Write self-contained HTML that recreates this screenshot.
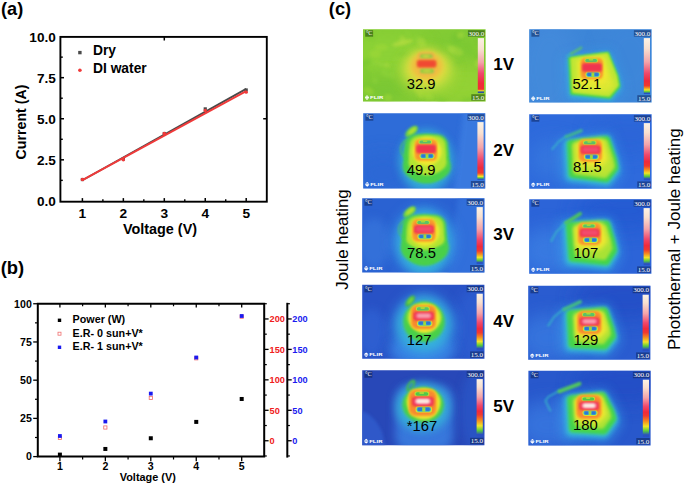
<!DOCTYPE html>
<html><head><meta charset="utf-8"><title>Figure</title>
<style>html,body{margin:0;padding:0;background:#fff;}svg{display:block;}text{font-kerning:normal;}</style></head>
<body><svg width="685" height="484" viewBox="0 0 685 484">
<rect width="685" height="484" fill="#fff"/>
<defs>
<filter id="b0_5" x="-50%" y="-50%" width="200%" height="200%"><feGaussianBlur stdDeviation="0.5"/></filter>
<filter id="b0_8" x="-50%" y="-50%" width="200%" height="200%"><feGaussianBlur stdDeviation="0.8"/></filter>
<filter id="b1_2" x="-50%" y="-50%" width="200%" height="200%"><feGaussianBlur stdDeviation="1.2"/></filter>
<filter id="b1_8" x="-50%" y="-50%" width="200%" height="200%"><feGaussianBlur stdDeviation="1.8"/></filter>
<filter id="b2_5" x="-50%" y="-50%" width="200%" height="200%"><feGaussianBlur stdDeviation="2.5"/></filter>
<filter id="b4" x="-50%" y="-50%" width="200%" height="200%"><feGaussianBlur stdDeviation="4"/></filter>
<filter id="b6" x="-50%" y="-50%" width="200%" height="200%"><feGaussianBlur stdDeviation="6"/></filter>
<filter id="b9" x="-50%" y="-50%" width="200%" height="200%"><feGaussianBlur stdDeviation="9"/></filter>
<linearGradient id="cbar" x1="0" y1="0" x2="0" y2="1">
<stop offset="0" stop-color="#fbf3e6"/><stop offset="0.2" stop-color="#f8e0d0"/><stop offset="0.42" stop-color="#f4a4aa"/>
<stop offset="0.62" stop-color="#f0486c"/><stop offset="0.8" stop-color="#f02a3c"/><stop offset="0.865" stop-color="#f03a30"/><stop offset="0.9" stop-color="#f58a20"/>
<stop offset="0.935" stop-color="#f2e428"/><stop offset="0.962" stop-color="#58cc3c"/><stop offset="0.985" stop-color="#2a50c0"/><stop offset="1" stop-color="#2a50c0"/></linearGradient>
<linearGradient id="cbar1" x1="0" y1="0" x2="0" y2="1">
<stop offset="0" stop-color="#fbf0e2"/><stop offset="0.2" stop-color="#f8e0d0"/><stop offset="0.44" stop-color="#f4a4aa"/>
<stop offset="0.64" stop-color="#f0486c"/><stop offset="0.82" stop-color="#f02a3c"/><stop offset="0.93" stop-color="#f03030"/><stop offset="0.95" stop-color="#f5b028"/>
<stop offset="0.965" stop-color="#c8d838"/><stop offset="0.975" stop-color="#2a50a0"/><stop offset="1" stop-color="#2a50a0"/></linearGradient>
</defs>
<rect x="60.4" y="36.9" width="206.4" height="164.79999999999998" fill="none" stroke="#000" stroke-width="1.9"/>
<path d="M82.4 201.7v-3.6" stroke="#000" stroke-width="1.5"/>
<text x="82.4" y="218.3" font-family='"Liberation Sans", sans-serif' font-size="13.7" font-weight="bold" fill="#000" text-anchor="middle" >1</text>
<path d="M123.35000000000001 201.7v-3.6" stroke="#000" stroke-width="1.5"/>
<text x="123.35000000000001" y="218.3" font-family='"Liberation Sans", sans-serif' font-size="13.7" font-weight="bold" fill="#000" text-anchor="middle" >2</text>
<path d="M164.3 201.7v-3.6" stroke="#000" stroke-width="1.5"/>
<text x="164.3" y="218.3" font-family='"Liberation Sans", sans-serif' font-size="13.7" font-weight="bold" fill="#000" text-anchor="middle" >3</text>
<path d="M205.25 201.7v-3.6" stroke="#000" stroke-width="1.5"/>
<text x="205.25" y="218.3" font-family='"Liberation Sans", sans-serif' font-size="13.7" font-weight="bold" fill="#000" text-anchor="middle" >4</text>
<path d="M246.20000000000002 201.7v-3.6" stroke="#000" stroke-width="1.5"/>
<text x="246.20000000000002" y="218.3" font-family='"Liberation Sans", sans-serif' font-size="13.7" font-weight="bold" fill="#000" text-anchor="middle" >5</text>
<path d="M164.3 36.9v3.6M266.8 118.75h-3.6" stroke="#000" stroke-width="1.5"/>
<path d="M102.875 201.7v-2.4" stroke="#000" stroke-width="1.4"/>
<path d="M143.82500000000002 201.7v-2.4" stroke="#000" stroke-width="1.4"/>
<path d="M184.775 201.7v-2.4" stroke="#000" stroke-width="1.4"/>
<path d="M225.72500000000002 201.7v-2.4" stroke="#000" stroke-width="1.4"/>
<text x="55.8" y="205.8" font-family='"Liberation Sans", sans-serif' font-size="13.6" font-weight="bold" fill="#000" text-anchor="end" >0.0</text>
<path d="M60.4 159.825h3.6" stroke="#000" stroke-width="1.5"/>
<text x="55.8" y="164.725" font-family='"Liberation Sans", sans-serif' font-size="13.6" font-weight="bold" fill="#000" text-anchor="end" >2.5</text>
<path d="M60.4 118.75h3.6" stroke="#000" stroke-width="1.5"/>
<text x="55.8" y="123.65" font-family='"Liberation Sans", sans-serif' font-size="13.6" font-weight="bold" fill="#000" text-anchor="end" >5.0</text>
<path d="M60.4 77.67500000000001h3.6" stroke="#000" stroke-width="1.5"/>
<text x="55.8" y="82.57500000000002" font-family='"Liberation Sans", sans-serif' font-size="13.6" font-weight="bold" fill="#000" text-anchor="end" >7.5</text>
<text x="55.8" y="41.49999999999999" font-family='"Liberation Sans", sans-serif' font-size="13.6" font-weight="bold" fill="#000" text-anchor="end" >10.0</text>
<path d="M60.4 180.3625h2.4" stroke="#000" stroke-width="1.4"/>
<path d="M60.4 139.28750000000002h2.4" stroke="#000" stroke-width="1.4"/>
<path d="M60.4 98.2125h2.4" stroke="#000" stroke-width="1.4"/>
<path d="M60.4 57.13750000000002h2.4" stroke="#000" stroke-width="1.4"/>
<text x="160" y="234" font-family='"Liberation Sans", sans-serif' font-size="14.4" font-weight="bold" fill="#000" text-anchor="middle" >Voltage (V)</text>
<text transform="translate(26.2,122) rotate(-90)" font-family='"Liberation Sans", sans-serif' font-size="14.2" font-weight="bold" text-anchor="middle">Current (A)</text>
<path d="M82.4 180.1982L246.20000000000002 88.84740000000001" stroke="#4a4a4a" stroke-width="1.8" fill="none"/>
<rect x="80.80000000000001" y="177.941" width="3.2" height="3.2" fill="#4a4a4a"/>
<rect x="121.75000000000001" y="157.4035" width="3.2" height="3.2" fill="#4a4a4a"/>
<rect x="162.70000000000002" y="131.937" width="3.2" height="3.2" fill="#4a4a4a"/>
<rect x="203.65" y="107.29200000000002" width="3.2" height="3.2" fill="#4a4a4a"/>
<rect x="244.60000000000002" y="88.39750000000001" width="3.2" height="3.2" fill="#4a4a4a"/>
<path d="M82.4 180.1982L246.20000000000002 91.14760000000001" stroke="#f03a3a" stroke-width="1.9" fill="none"/>
<circle cx="82.4" cy="179.541" r="1.7" fill="#f03a3a"/>
<circle cx="123.35000000000001" cy="159.825" r="1.7" fill="#f03a3a"/>
<circle cx="164.3" cy="133.537" r="1.7" fill="#f03a3a"/>
<circle cx="205.25" cy="110.53500000000001" r="1.7" fill="#f03a3a"/>
<circle cx="246.20000000000002" cy="92.13340000000001" r="1.7" fill="#f03a3a"/>
<rect x="78.2" y="50.9" width="3.4" height="3.4" fill="#4a4a4a"/>
<circle cx="79.9" cy="70.3" r="1.8" fill="#f03a3a"/>
<text x="93" y="55.3" font-family='"Liberation Sans", sans-serif' font-size="13.8" font-weight="bold" fill="#000" text-anchor="start" >Dry</text>
<text x="93" y="72.5" font-family='"Liberation Sans", sans-serif' font-size="13.8" font-weight="bold" fill="#000" text-anchor="start" >DI water</text>
<text x="1.0" y="15" font-family='"Liberation Sans", sans-serif' font-size="18.2" font-weight="bold" fill="#000" text-anchor="start" >(a)</text>
<path d="M37.8 456.6V303.8H264.2V456.6Z" fill="none" stroke="#000" stroke-width="2"/>
<path d="M287.3 302.8V457.6" stroke="#000" stroke-width="2"/>
<path d="M59.9 456.6v4.6M59.9 303.8v3.6" stroke="#000" stroke-width="1.3"/>
<text x="59.9" y="469.8" font-family='"Liberation Sans", sans-serif' font-size="10.6" font-weight="bold" fill="#000" text-anchor="middle" >1</text>
<path d="M105.35 456.6v4.6M105.35 303.8v3.6" stroke="#000" stroke-width="1.3"/>
<text x="105.35" y="469.8" font-family='"Liberation Sans", sans-serif' font-size="10.6" font-weight="bold" fill="#000" text-anchor="middle" >2</text>
<path d="M150.8 456.6v4.6M150.8 303.8v3.6" stroke="#000" stroke-width="1.3"/>
<text x="150.8" y="469.8" font-family='"Liberation Sans", sans-serif' font-size="10.6" font-weight="bold" fill="#000" text-anchor="middle" >3</text>
<path d="M196.25000000000003 456.6v4.6M196.25000000000003 303.8v3.6" stroke="#000" stroke-width="1.3"/>
<text x="196.25000000000003" y="469.8" font-family='"Liberation Sans", sans-serif' font-size="10.6" font-weight="bold" fill="#000" text-anchor="middle" >4</text>
<path d="M241.70000000000002 456.6v4.6M241.70000000000002 303.8v3.6" stroke="#000" stroke-width="1.3"/>
<text x="241.70000000000002" y="469.8" font-family='"Liberation Sans", sans-serif' font-size="10.6" font-weight="bold" fill="#000" text-anchor="middle" >5</text>
<path d="M82.625 456.6v2.8M82.625 303.8v2.4" stroke="#000" stroke-width="1.2"/>
<path d="M128.07500000000002 456.6v2.8M128.07500000000002 303.8v2.4" stroke="#000" stroke-width="1.2"/>
<path d="M173.525 456.6v2.8M173.525 303.8v2.4" stroke="#000" stroke-width="1.2"/>
<path d="M218.97500000000002 456.6v2.8M218.97500000000002 303.8v2.4" stroke="#000" stroke-width="1.2"/>
<path d="M37.8 456.6h-4.6" stroke="#000" stroke-width="1.3"/>
<text x="31.8" y="460.40000000000003" font-family='"Liberation Sans", sans-serif' font-size="10.6" font-weight="bold" fill="#000" text-anchor="end" >0</text>
<path d="M37.8 418.38750000000005h-4.6" stroke="#000" stroke-width="1.3"/>
<text x="31.8" y="422.18750000000006" font-family='"Liberation Sans", sans-serif' font-size="10.6" font-weight="bold" fill="#000" text-anchor="end" >25</text>
<path d="M37.8 380.175h-4.6" stroke="#000" stroke-width="1.3"/>
<text x="31.8" y="383.975" font-family='"Liberation Sans", sans-serif' font-size="10.6" font-weight="bold" fill="#000" text-anchor="end" >50</text>
<path d="M37.8 341.96250000000003h-4.6" stroke="#000" stroke-width="1.3"/>
<text x="31.8" y="345.76250000000005" font-family='"Liberation Sans", sans-serif' font-size="10.6" font-weight="bold" fill="#000" text-anchor="end" >75</text>
<path d="M37.8 303.75h-4.6" stroke="#000" stroke-width="1.3"/>
<text x="31.8" y="307.55" font-family='"Liberation Sans", sans-serif' font-size="10.6" font-weight="bold" fill="#000" text-anchor="end" >100</text>
<path d="M37.8 437.49375000000003h-2.8" stroke="#000" stroke-width="1.2"/>
<path d="M37.8 399.28125h-2.8" stroke="#000" stroke-width="1.2"/>
<path d="M37.8 361.06875h-2.8" stroke="#000" stroke-width="1.2"/>
<path d="M37.8 322.85625000000005h-2.8" stroke="#000" stroke-width="1.2"/>
<path d="M264.2 440.75h4.4" stroke="#000" stroke-width="1.3"/>
<text x="269.6" y="444.05" font-family='"Liberation Sans", sans-serif' font-size="9.2" font-weight="bold" fill="#f02020" text-anchor="start" >0</text>
<path d="M264.2 410.3h4.4" stroke="#000" stroke-width="1.3"/>
<text x="269.6" y="413.6" font-family='"Liberation Sans", sans-serif' font-size="9.2" font-weight="bold" fill="#f02020" text-anchor="start" >50</text>
<path d="M264.2 379.85h4.4" stroke="#000" stroke-width="1.3"/>
<text x="269.6" y="383.15000000000003" font-family='"Liberation Sans", sans-serif' font-size="9.2" font-weight="bold" fill="#f02020" text-anchor="start" >100</text>
<path d="M264.2 349.4h4.4" stroke="#000" stroke-width="1.3"/>
<text x="269.6" y="352.7" font-family='"Liberation Sans", sans-serif' font-size="9.2" font-weight="bold" fill="#f02020" text-anchor="start" >150</text>
<path d="M264.2 318.95h4.4" stroke="#000" stroke-width="1.3"/>
<text x="269.6" y="322.25" font-family='"Liberation Sans", sans-serif' font-size="9.2" font-weight="bold" fill="#f02020" text-anchor="start" >200</text>
<path d="M264.2 455.975h2.6" stroke="#000" stroke-width="1.2"/>
<path d="M264.2 425.525h2.6" stroke="#000" stroke-width="1.2"/>
<path d="M264.2 395.075h2.6" stroke="#000" stroke-width="1.2"/>
<path d="M264.2 364.625h2.6" stroke="#000" stroke-width="1.2"/>
<path d="M264.2 334.175h2.6" stroke="#000" stroke-width="1.2"/>
<path d="M264.2 303.725h2.6" stroke="#000" stroke-width="1.2"/>
<path d="M287.3 440.75h4.4" stroke="#000" stroke-width="1.3"/>
<text x="292.3" y="444.05" font-family='"Liberation Sans", sans-serif' font-size="9.2" font-weight="bold" fill="#1a1af0" text-anchor="start" >0</text>
<path d="M287.3 410.3h4.4" stroke="#000" stroke-width="1.3"/>
<text x="292.3" y="413.6" font-family='"Liberation Sans", sans-serif' font-size="9.2" font-weight="bold" fill="#1a1af0" text-anchor="start" >50</text>
<path d="M287.3 379.85h4.4" stroke="#000" stroke-width="1.3"/>
<text x="292.3" y="383.15000000000003" font-family='"Liberation Sans", sans-serif' font-size="9.2" font-weight="bold" fill="#1a1af0" text-anchor="start" >100</text>
<path d="M287.3 349.4h4.4" stroke="#000" stroke-width="1.3"/>
<text x="292.3" y="352.7" font-family='"Liberation Sans", sans-serif' font-size="9.2" font-weight="bold" fill="#1a1af0" text-anchor="start" >150</text>
<path d="M287.3 318.95h4.4" stroke="#000" stroke-width="1.3"/>
<text x="292.3" y="322.25" font-family='"Liberation Sans", sans-serif' font-size="9.2" font-weight="bold" fill="#1a1af0" text-anchor="start" >200</text>
<path d="M287.3 455.975h2.6" stroke="#000" stroke-width="1.2"/>
<path d="M287.3 425.525h2.6" stroke="#000" stroke-width="1.2"/>
<path d="M287.3 395.075h2.6" stroke="#000" stroke-width="1.2"/>
<path d="M287.3 364.625h2.6" stroke="#000" stroke-width="1.2"/>
<path d="M287.3 334.175h2.6" stroke="#000" stroke-width="1.2"/>
<path d="M287.3 303.725h2.6" stroke="#000" stroke-width="1.2"/>
<text x="147.8" y="481" font-family='"Liberation Sans", sans-serif' font-size="10.9" font-weight="bold" fill="#000" text-anchor="middle" >Voltage (V)</text>
<rect x="57.9" y="452.61295" width="4" height="4" fill="#000"/>
<rect x="103.35" y="446.95750000000004" width="4" height="4" fill="#000"/>
<rect x="148.8" y="436.25800000000004" width="4" height="4" fill="#000"/>
<rect x="194.25000000000003" y="419.90305" width="4" height="4" fill="#000"/>
<rect x="239.70000000000002" y="396.97555" width="4" height="4" fill="#000"/>
<rect x="58.3" y="436.2" width="3.2" height="3.2" fill="#fff" stroke="#f06868" stroke-width="0.8"/>
<rect x="103.75" y="425.9" width="3.2" height="3.2" fill="#fff" stroke="#f06868" stroke-width="0.8"/>
<rect x="149.20000000000002" y="396.29999999999995" width="3.2" height="3.2" fill="#fff" stroke="#f06868" stroke-width="0.8"/>
<rect x="194.65000000000003" y="356.7" width="3.2" height="3.2" fill="#fff" stroke="#f06868" stroke-width="0.8"/>
<rect x="240.10000000000002" y="315.09999999999997" width="3.2" height="3.2" fill="#fff" stroke="#f06868" stroke-width="0.8"/>
<rect x="58.0" y="434.1" width="3.8" height="3.8" fill="#1a1af0"/>
<rect x="103.44999999999999" y="419.6" width="3.8" height="3.8" fill="#1a1af0"/>
<rect x="148.9" y="391.70000000000005" width="3.8" height="3.8" fill="#1a1af0"/>
<rect x="194.35000000000002" y="355.6" width="3.8" height="3.8" fill="#1a1af0"/>
<rect x="239.8" y="314.1" width="3.8" height="3.8" fill="#1a1af0"/>
<rect x="57.8" y="318.6" width="3.4" height="3.4" fill="#000"/>
<rect x="58" y="332.2" width="3" height="3" fill="#fff" stroke="#f07070" stroke-width="0.8"/>
<rect x="57.8" y="345.6" width="3.4" height="3.4" fill="#1a1af0"/>
<text x="72.6" y="323.4" font-family='"Liberation Sans", sans-serif' font-size="10.75" font-weight="bold" fill="#000" text-anchor="start" >Power (W)</text>
<text x="72.6" y="337.1" font-family='"Liberation Sans", sans-serif' font-size="10.75" font-weight="bold" fill="#000" text-anchor="start" >E.R- 0 sun+V*</text>
<text x="72.6" y="350.2" font-family='"Liberation Sans", sans-serif' font-size="10.75" font-weight="bold" fill="#000" text-anchor="start" >E.R- 1 sun+V*</text>
<text x="0.7" y="274" font-family='"Liberation Sans", sans-serif' font-size="18.4" font-weight="bold" fill="#000" text-anchor="start" >(b)</text>
<text x="328.8" y="14.7" font-family='"Liberation Sans", sans-serif' font-size="18.3" font-weight="bold" fill="#000" text-anchor="start" >(c)</text>
<text transform="translate(348,239.5) rotate(-90)" font-family='"Liberation Sans", sans-serif' font-size="16.9" text-anchor="middle">Joule heating</text>
<text transform="translate(679.6,239.2) rotate(-90)" font-family='"Liberation Sans", sans-serif' font-size="17" text-anchor="middle">Photothermal + Joule heating</text>
<text x="493.3" y="70.4" font-family='"Liberation Sans", sans-serif' font-size="17" font-weight="bold" fill="#000" text-anchor="start" >1V</text>
<text x="493.3" y="155.6" font-family='"Liberation Sans", sans-serif' font-size="17" font-weight="bold" fill="#000" text-anchor="start" >2V</text>
<text x="493.3" y="240.4" font-family='"Liberation Sans", sans-serif' font-size="17" font-weight="bold" fill="#000" text-anchor="start" >3V</text>
<text x="493.3" y="327" font-family='"Liberation Sans", sans-serif' font-size="17" font-weight="bold" fill="#000" text-anchor="start" >4V</text>
<text x="493.3" y="412.3" font-family='"Liberation Sans", sans-serif' font-size="17" font-weight="bold" fill="#000" text-anchor="start" >5V</text>
<linearGradient id="g1" x1="0" y1="0" x2="0" y2="1"><stop offset="0.000" stop-color="#fbf3e6"/><stop offset="0.194" stop-color="#f8e0d0"/><stop offset="0.440" stop-color="#f4a4aa"/><stop offset="0.651" stop-color="#f0486c"/><stop offset="0.792" stop-color="#f02a3c"/><stop offset="0.880" stop-color="#f03a30"/><stop offset="0.910" stop-color="#f58a20"/><stop offset="0.940" stop-color="#f2e428"/><stop offset="0.966" stop-color="#58cc3c"/><stop offset="0.988" stop-color="#2a50c0"/><stop offset="1.000" stop-color="#2a50c0"/></linearGradient>
<clipPath id="c1"><rect x="0" y="0" width="122.6" height="72.4"/></clipPath>
<g transform="translate(363,29.2)" clip-path="url(#c1)">
<rect x="-2" y="-2" width="126.6" height="76.4" fill="#84cc34"/>
<ellipse cx="25" cy="25" rx="40" ry="22" fill="#92d638" filter="url(#b9)" opacity="0.6"/>
<ellipse cx="100" cy="55" rx="34" ry="22" fill="#9ad436" filter="url(#b9)" opacity="0.7"/>
<ellipse cx="20" cy="60" rx="25" ry="14" fill="#74c434" filter="url(#b9)" opacity="0.6"/>
<ellipse cx="95" cy="18" rx="20" ry="12" fill="#78c834" filter="url(#b9)" opacity="0.5"/>
<ellipse cx="40" cy="13.5" rx="11" ry="2.6" fill="#b4dc40" filter="url(#b1_8)" opacity="0.8" transform="rotate(-14 40 13.5)"/>
<ellipse cx="39.5" cy="10.9" rx="3.3" ry="4.5" fill="#b0dc40" filter="url(#b1_8)" opacity="0.45"/>
<ellipse cx="44.6" cy="4.2" rx="4.3" ry="2.3" fill="#90d43a" filter="url(#b1_8)" opacity="0.45" transform="rotate(60 44.6 4.2)"/>
<ellipse cx="8.5" cy="6.5" rx="3.4" ry="3.7" fill="#7ac832" filter="url(#b1_8)" opacity="0.45" transform="rotate(-20 8.5 6.5)"/>
<ellipse cx="76.9" cy="42.0" rx="6.5" ry="3.2" fill="#9cd83c" filter="url(#b1_8)" opacity="0.45" transform="rotate(-20 76.9 42.0)"/>
<ellipse cx="5.7" cy="61.8" rx="5.5" ry="3.6" fill="#a4da38" filter="url(#b1_8)" opacity="0.45" transform="rotate(25 5.7 61.8)"/>
<ellipse cx="68.4" cy="49.1" rx="6.5" ry="3.9" fill="#9cd83c" filter="url(#b1_8)" opacity="0.45" transform="rotate(25 68.4 49.1)"/>
<ellipse cx="11.9" cy="51.3" rx="3.4" ry="2.6" fill="#90d43a" filter="url(#b1_8)" opacity="0.45" transform="rotate(60 11.9 51.3)"/>
<ellipse cx="94.8" cy="33.5" rx="5.2" ry="2.7" fill="#7ac832" filter="url(#b1_8)" opacity="0.45" transform="rotate(-20 94.8 33.5)"/>
<ellipse cx="85.3" cy="17.6" rx="4.8" ry="3.5" fill="#90d43a" filter="url(#b1_8)" opacity="0.45" transform="rotate(25 85.3 17.6)"/>
<ellipse cx="89.0" cy="20.7" rx="3.7" ry="3.3" fill="#9cd83c" filter="url(#b1_8)" opacity="0.45" transform="rotate(25 89.0 20.7)"/>
<ellipse cx="18.5" cy="35.2" rx="8.8" ry="2.2" fill="#9cd83c" filter="url(#b1_8)" opacity="0.45" transform="rotate(25 18.5 35.2)"/>
<ellipse cx="41.5" cy="25.2" rx="6.5" ry="3.4" fill="#7ac832" filter="url(#b1_8)" opacity="0.45"/>
<ellipse cx="115.3" cy="34.1" rx="3.4" ry="4.2" fill="#b0dc40" filter="url(#b1_8)" opacity="0.45" transform="rotate(25 115.3 34.1)"/>
<ellipse cx="78.9" cy="71.5" rx="4.7" ry="3.2" fill="#7ac832" filter="url(#b1_8)" opacity="0.45" transform="rotate(25 78.9 71.5)"/>
<ellipse cx="2.8" cy="33.2" rx="6.7" ry="3.5" fill="#72c430" filter="url(#b1_8)" opacity="0.45" transform="rotate(-20 2.8 33.2)"/>
<ellipse cx="93.7" cy="9.3" rx="5.4" ry="4.8" fill="#72c430" filter="url(#b1_8)" opacity="0.45" transform="rotate(60 93.7 9.3)"/>
<ellipse cx="9.8" cy="32.3" rx="4.7" ry="2.4" fill="#90d43a" filter="url(#b1_8)" opacity="0.45" transform="rotate(60 9.8 32.3)"/>
<ellipse cx="105.4" cy="20.0" rx="8.9" ry="4.0" fill="#7ac832" filter="url(#b1_8)" opacity="0.45" transform="rotate(60 105.4 20.0)"/>
<ellipse cx="116.8" cy="10.9" rx="3.9" ry="4.0" fill="#72c430" filter="url(#b1_8)" opacity="0.45"/>
<ellipse cx="59.2" cy="42.4" rx="4.7" ry="2.4" fill="#a4da38" filter="url(#b1_8)" opacity="0.45" transform="rotate(25 59.2 42.4)"/>
<ellipse cx="74.4" cy="22.9" rx="7.1" ry="3.5" fill="#72c430" filter="url(#b1_8)" opacity="0.45"/>
<ellipse cx="55.7" cy="62.7" rx="7.8" ry="3.2" fill="#b0dc40" filter="url(#b1_8)" opacity="0.45" transform="rotate(60 55.7 62.7)"/>
<ellipse cx="48.1" cy="34.7" rx="3.4" ry="2.2" fill="#7ac832" filter="url(#b1_8)" opacity="0.45" transform="rotate(-20 48.1 34.7)"/>
<ellipse cx="53.8" cy="7.9" rx="3.3" ry="2.0" fill="#90d43a" filter="url(#b1_8)" opacity="0.45" transform="rotate(-20 53.8 7.9)"/>
<ellipse cx="65.5" cy="68.3" rx="3.2" ry="4.6" fill="#90d43a" filter="url(#b1_8)" opacity="0.45" transform="rotate(60 65.5 68.3)"/>
<ellipse cx="18.1" cy="18.2" rx="6.6" ry="3.4" fill="#a4da38" filter="url(#b1_8)" opacity="0.45"/>
<ellipse cx="103.6" cy="71.5" rx="5.9" ry="2.9" fill="#7ac832" filter="url(#b1_8)" opacity="0.45" transform="rotate(-20 103.6 71.5)"/>
<ellipse cx="12.5" cy="24.7" rx="5.9" ry="4.1" fill="#a4da38" filter="url(#b1_8)" opacity="0.45"/>
<ellipse cx="25.0" cy="68.5" rx="3.9" ry="3.6" fill="#a4da38" filter="url(#b1_8)" opacity="0.45"/>
<ellipse cx="92.5" cy="21.5" rx="8.2" ry="4.1" fill="#b0dc40" filter="url(#b1_8)" opacity="0.45" transform="rotate(25 92.5 21.5)"/>
<ellipse cx="63.2" cy="65.4" rx="7.6" ry="3.6" fill="#a4da38" filter="url(#b1_8)" opacity="0.45" transform="rotate(25 63.2 65.4)"/>
<ellipse cx="77.6" cy="44.2" rx="7.8" ry="4.5" fill="#72c430" filter="url(#b1_8)" opacity="0.45" transform="rotate(-20 77.6 44.2)"/>
<ellipse cx="24.4" cy="35.5" rx="3.2" ry="2.1" fill="#b0dc40" filter="url(#b1_8)" opacity="0.45" transform="rotate(25 24.4 35.5)"/>
<ellipse cx="57.6" cy="13.9" rx="8.7" ry="3.3" fill="#90d43a" filter="url(#b1_8)" opacity="0.45" transform="rotate(25 57.6 13.9)"/>
<ellipse cx="116.5" cy="26.3" rx="3.6" ry="3.4" fill="#72c430" filter="url(#b1_8)" opacity="0.45" transform="rotate(25 116.5 26.3)"/>
<ellipse cx="24.9" cy="44.9" rx="8.0" ry="3.4" fill="#90d43a" filter="url(#b1_8)" opacity="0.45" transform="rotate(25 24.9 44.9)"/>
<ellipse cx="97.6" cy="6.1" rx="3.7" ry="3.2" fill="#b0dc40" filter="url(#b1_8)" opacity="0.45" transform="rotate(-20 97.6 6.1)"/>
<ellipse cx="58.3" cy="12.9" rx="5.0" ry="4.4" fill="#b0dc40" filter="url(#b1_8)" opacity="0.45" transform="rotate(60 58.3 12.9)"/>
<ellipse cx="56.5" cy="53.5" rx="7.3" ry="2.5" fill="#9cd83c" filter="url(#b1_8)" opacity="0.45" transform="rotate(-20 56.5 53.5)"/>
<ellipse cx="3.4" cy="42.5" rx="7.8" ry="2.4" fill="#7ac832" filter="url(#b1_8)" opacity="0.45" transform="rotate(60 3.4 42.5)"/>
<ellipse cx="64" cy="42" rx="28" ry="22" fill="#b4dc3c" filter="url(#b6)" opacity="0.9"/>
<ellipse cx="64" cy="39" rx="21" ry="17.5" fill="#e2dc40" filter="url(#b4)" opacity="1"/>
<ellipse cx="63.7" cy="36.5" rx="15.5" ry="13.5" fill="#f0bc40" filter="url(#b2_5)" opacity="1"/>
<rect x="55" y="23.6" width="16" height="6.4" rx="2" fill="#f0b048" filter="url(#b1_2)" opacity="1"/>
<rect x="55.5" y="38" width="17" height="7.4" rx="2" fill="#f0b848" filter="url(#b1_2)" opacity="1"/>
<rect x="57" y="25" width="12.6" height="4" rx="1.5" fill="#98cc40" filter="url(#b0_8)" opacity="1"/>
<rect x="57.2" y="39.4" width="13.6" height="4.6" rx="1.5" fill="#98cc40" filter="url(#b0_8)" opacity="1"/>
<rect x="60" y="25.6" width="6" height="3" rx="1" fill="#c8d040" filter="url(#b0_8)" opacity="1"/>
<rect x="60.4" y="40" width="7" height="3.4" rx="1" fill="#c0d040" filter="url(#b0_8)" opacity="1"/>
<rect x="53.6" y="30.6" width="20" height="8" rx="2.5" fill="#f08838" filter="url(#b1_2)" opacity="1"/>
<rect x="54.4" y="31.4" width="18.4" height="6.4" rx="2" fill="#f04832" filter="url(#b1_2)" opacity="1"/>
<rect x="2.2" y="1" width="7.9" height="6.5" fill="rgba(30,70,10,0.55)"/>
<text x="2.9" y="6.3" font-family='"Liberation Serif", serif' font-size="6.4" fill="#fff" textLength="6.6" lengthAdjust="spacingAndGlyphs">°C</text>
<rect x="104.89999999999999" y="1" width="16.9" height="6.4" fill="rgba(30,70,10,0.55)"/>
<text x="121.19999999999999" y="6.6" font-family='"Liberation Serif", serif' font-size="7" fill="#fff" text-anchor="end">300.0</text>
<rect x="108.3" y="65.0" width="13.5" height="6.4" fill="rgba(30,70,10,0.55)"/>
<text x="121.19999999999999" y="70.60000000000001" font-family='"Liberation Serif", serif' font-size="7" fill="#fff" text-anchor="end">15.0</text>
<rect x="114.8" y="8.9" width="6.2" height="55.00000000000001" fill="url(#cbar1)"/>
<g fill="#fff"><path d="M4 66.0l2 1.6h-4zM4 70.7l2-1.6h-4z"/><rect x="2" y="67.9" width="4" height="0.9"/></g>
<text x="7" y="69.80000000000001" font-family='"Liberation Sans", sans-serif' font-size="3.9" font-weight="bold" fill="#fff" textLength="13.3" lengthAdjust="spacingAndGlyphs">FLIR</text>
<text x="58.2" y="59.8" font-family='"Liberation Sans", sans-serif' font-size="14.8" fill="#000" text-anchor="middle">32.9</text>
</g>
<linearGradient id="g2" x1="0" y1="0" x2="0" y2="1"><stop offset="0.000" stop-color="#fbf3e6"/><stop offset="0.187" stop-color="#f8e0d0"/><stop offset="0.425" stop-color="#f4a4aa"/><stop offset="0.629" stop-color="#f0486c"/><stop offset="0.765" stop-color="#f02a3c"/><stop offset="0.850" stop-color="#f03a30"/><stop offset="0.887" stop-color="#f58a20"/><stop offset="0.925" stop-color="#f2e428"/><stop offset="0.958" stop-color="#58cc3c"/><stop offset="0.985" stop-color="#2a50c0"/><stop offset="1.000" stop-color="#2a50c0"/></linearGradient>
<clipPath id="c2"><rect x="0" y="0" width="122.4" height="73.4"/></clipPath>
<g transform="translate(529.2,29.2)" clip-path="url(#c2)">
<rect x="-2" y="-2" width="126.4" height="77.4" fill="#3d86d8"/>
<ellipse cx="20" cy="40" rx="30" ry="50" fill="#4a8ede" filter="url(#b9)" opacity="0.5"/>
<ellipse cx="100" cy="30" rx="30" ry="40" fill="#4088dc" filter="url(#b9)" opacity="0.4"/>
<path d="M36.3 29.2L79.8 23.5L90.5 50.2L92.4 61.4L82.0 73.9L38.5 69.3z" fill="#38a0ea" stroke="#38a0ea" stroke-width="6" stroke-linecap="round" stroke-linejoin="round" filter="url(#b6)" opacity="0.45"/>
<path d="M39.9 30.1L78.7 25.0L88.3 48.8L90.0 58.8L80.7 70.0L41.9 65.9z" fill="#34c4d0" stroke="#34c4d0" stroke-width="4" stroke-linecap="round" stroke-linejoin="round" filter="url(#b2_5)" opacity="0.7"/>
<path d="M40.5 29.0L78.5 24.0L87.9 47.3L89.6 57.1L80.5 68.1L42.5 64.1z" fill="#44d44c" stroke="#44d44c" stroke-width="3" stroke-linecap="round" stroke-linejoin="round" filter="url(#b1_2)" opacity="1"/>
<path d="M38 27L42 24" fill="none" stroke="#38b8c8" stroke-width="1.8" stroke-linecap="round" stroke-linejoin="round" filter="url(#b1_2)" opacity="0.8"/><path d="M42 24.5L52 18.5" fill="none" stroke="#58c070" stroke-width="2.4" stroke-linecap="round" stroke-linejoin="round" filter="url(#b0_8)" opacity="0.95"/>
<path d="M42.3 29.6L78.0 24.9L86.8 46.8L88.4 56.0L79.8 66.3L44.1 62.5z" fill="#bce634" stroke="#bce634" stroke-width="2.5" stroke-linecap="round" stroke-linejoin="round" filter="url(#b1_2)" opacity="1"/>
<path d="M45.8 50.3L82.8 47.3L85.8 57.3L77.8 63.3L46.8 60.3z" fill="#e4e830" filter="url(#b2_5)" opacity="0.8"/>
<path d="M48.8 31.299999999999997L74.8 28.299999999999997L79.8 47.3L72.8 54.3L49.8 52.3z" fill="#f0e830" stroke="#f0e830" stroke-width="2" stroke-linecap="round" stroke-linejoin="round" filter="url(#b2_5)" opacity="1"/>
<rect x="51.4" y="28.499999999999996" width="22.4" height="21.6" rx="4.5" fill="#f8b428" filter="url(#b1_2)" opacity="1"/>
<rect x="52.4" y="29.699999999999996" width="20.6" height="19.4" rx="4.0" fill="#f89030" filter="url(#b0_8)" opacity="0.9"/>
<rect x="55.199999999999996" y="29.099999999999998" width="13.6" height="4.4" rx="2" fill="#c0e030" filter="url(#b0_5)" opacity="1"/>
<rect x="56.199999999999996" y="29.799999999999997" width="11.6" height="3.1" rx="1.5" fill="#58c468" filter="url(#b0_5)" opacity="1"/>
<rect x="59.599999999999994" y="29.499999999999996" width="4.4" height="1.8" rx="0.8" fill="#a8d838" filter="url(#b0_5)" opacity="1"/>
<rect x="56.199999999999996" y="42.3" width="15" height="6" rx="2.4" fill="#d0e430" filter="url(#b0_5)" opacity="1"/>
<rect x="57.199999999999996" y="43.099999999999994" width="13" height="4.4" rx="2" fill="#38b0c8" filter="url(#b0_5)" opacity="1"/>
<rect x="58.199999999999996" y="43.8" width="4" height="3" rx="1.2" fill="#2c78d8" filter="url(#b0_5)" opacity="1"/>
<rect x="65.2" y="43.8" width="4" height="3" rx="1.2" fill="#2c78d8" filter="url(#b0_5)" opacity="1"/>
<rect x="62.4" y="43.099999999999994" width="2.6" height="4.4" rx="0.5" fill="#a0dc38" filter="url(#b0_5)" opacity="1"/>
<rect x="52.9" y="34.099999999999994" width="19.8" height="8.4" rx="2.2" fill="#f03450" filter="url(#b0_8)" opacity="1"/>
<rect x="2.2" y="1" width="7.9" height="6.5" fill="rgba(10,30,80,0.5)"/>
<text x="2.9" y="6.3" font-family='"Liberation Serif", serif' font-size="6.4" fill="#fff" textLength="6.6" lengthAdjust="spacingAndGlyphs">°C</text>
<rect x="104.7" y="1" width="16.9" height="6.4" fill="rgba(10,30,80,0.5)"/>
<text x="121.0" y="6.6" font-family='"Liberation Serif", serif' font-size="7" fill="#fff" text-anchor="end">300.0</text>
<rect x="108.10000000000001" y="66.0" width="13.5" height="6.4" fill="rgba(10,30,80,0.5)"/>
<text x="121.0" y="71.60000000000001" font-family='"Liberation Serif", serif' font-size="7" fill="#fff" text-anchor="end">15.0</text>
<rect x="114.60000000000001" y="8.9" width="6.2" height="56.0" fill="url(#g2)"/>
<g fill="#fff"><path d="M4 67.0l2 1.6h-4zM4 71.7l2-1.6h-4z"/><rect x="2" y="68.9" width="4" height="0.9"/></g>
<text x="7" y="70.80000000000001" font-family='"Liberation Sans", sans-serif' font-size="3.9" font-weight="bold" fill="#fff" textLength="13.3" lengthAdjust="spacingAndGlyphs">FLIR</text>
<text x="57.6" y="59.9" font-family='"Liberation Sans", sans-serif' font-size="14.8" fill="#000" text-anchor="middle">52.1</text>
</g>
<linearGradient id="g3" x1="0" y1="0" x2="0" y2="1"><stop offset="0.000" stop-color="#fbf3e6"/><stop offset="0.194" stop-color="#f8e0d0"/><stop offset="0.440" stop-color="#f4a4aa"/><stop offset="0.651" stop-color="#f0486c"/><stop offset="0.792" stop-color="#f02a3c"/><stop offset="0.880" stop-color="#f03a30"/><stop offset="0.910" stop-color="#f58a20"/><stop offset="0.940" stop-color="#f2e428"/><stop offset="0.966" stop-color="#58cc3c"/><stop offset="0.988" stop-color="#2a50c0"/><stop offset="1.000" stop-color="#2a50c0"/></linearGradient>
<clipPath id="c3"><rect x="0" y="0" width="122" height="75.2"/></clipPath>
<g transform="translate(363.2,113.2)" clip-path="url(#c3)">
<rect x="-2" y="-2" width="126" height="79.2" fill="#2e6cd8"/>
<path d="M100 -2L128 -2L128 80L90 80z" fill="#3c7ee2" filter="url(#b2_5)" opacity="0.8"/>
<ellipse cx="20" cy="60" rx="30" ry="20" fill="#2a66d4" filter="url(#b9)" opacity="0.6"/>
<ellipse cx="62.9" cy="47.8" rx="27" ry="31.0" fill="#34c0d8" filter="url(#b4)" opacity="0.75"/>
<ellipse cx="48.4" cy="18.299999999999997" rx="7.6" ry="3.8" fill="#68d048" filter="url(#b1_2)" opacity="1" transform="rotate(-40 48.4 18.299999999999997)"/>
<ellipse cx="48.9" cy="17.799999999999997" rx="5" ry="2.1" fill="#b0e030" filter="url(#b0_8)" opacity="1" transform="rotate(-40 48.9 17.799999999999997)"/>
<path d="M44.9 25.799999999999997q-9 4 -7 13q2 6 8 6" fill="none" stroke="#48c858" stroke-width="1.3" stroke-linecap="round" stroke-linejoin="round" filter="url(#b0_8)" opacity="0.9"/>
<ellipse cx="63.199999999999996" cy="45.55" rx="22.5" ry="24.25" fill="#48d048" filter="url(#b1_8)" opacity="1"/>
<ellipse cx="63.699999999999996" cy="53.48" rx="24" ry="15.64" fill="#48d048" filter="url(#b1_8)" opacity="1"/>
<rect x="41.4" y="21.299999999999997" width="43.5" height="32" rx="11" fill="#48d048" filter="url(#b1_8)" opacity="1"/>
<ellipse cx="64.1" cy="42.3" rx="18" ry="19.5" fill="#b4e430" filter="url(#b1_8)" opacity="1"/>
<ellipse cx="64.4" cy="49.31999999999999" rx="19" ry="11.44" fill="#b4e430" filter="url(#b1_8)" opacity="1"/>
<rect x="46.4" y="22.799999999999997" width="36" height="28" rx="9" fill="#b4e430" filter="url(#b1_8)" opacity="1"/>
<ellipse cx="63.9" cy="38.3" rx="14.5" ry="14.0" fill="#f0e830" filter="url(#b1_8)" opacity="1"/>
<g transform="translate(62.9,35.8) scale(1.0) translate(-62.9,-35.8)">
<rect x="51.5" y="25.999999999999996" width="22.4" height="21.6" rx="4.5" fill="#f8b428" filter="url(#b1_2)" opacity="1"/>
<rect x="52.5" y="27.199999999999996" width="20.6" height="19.4" rx="4.0" fill="#f89030" filter="url(#b0_8)" opacity="0.9"/>
<rect x="55.3" y="26.599999999999998" width="13.6" height="4.4" rx="2" fill="#c0e030" filter="url(#b0_5)" opacity="1"/>
<rect x="56.3" y="27.299999999999997" width="11.6" height="3.1" rx="1.5" fill="#58c468" filter="url(#b0_5)" opacity="1"/>
<rect x="59.699999999999996" y="26.999999999999996" width="4.4" height="1.8" rx="0.8" fill="#a8d838" filter="url(#b0_5)" opacity="1"/>
<rect x="56.3" y="39.8" width="15" height="6" rx="2.4" fill="#d0e430" filter="url(#b0_5)" opacity="1"/>
<rect x="57.3" y="40.599999999999994" width="13" height="4.4" rx="2" fill="#38b0c8" filter="url(#b0_5)" opacity="1"/>
<rect x="58.3" y="41.3" width="4" height="3" rx="1.2" fill="#2c78d8" filter="url(#b0_5)" opacity="1"/>
<rect x="65.3" y="41.3" width="4" height="3" rx="1.2" fill="#2c78d8" filter="url(#b0_5)" opacity="1"/>
<rect x="62.5" y="40.599999999999994" width="2.6" height="4.4" rx="0.5" fill="#a0dc38" filter="url(#b0_5)" opacity="1"/>
<rect x="53.0" y="31.599999999999998" width="19.8" height="8.4" rx="2.2" fill="#f03450" filter="url(#b0_8)" opacity="1"/>
</g>
<rect x="2.2" y="1" width="7.9" height="6.5" fill="rgba(10,30,80,0.5)"/>
<text x="2.9" y="6.3" font-family='"Liberation Serif", serif' font-size="6.4" fill="#fff" textLength="6.6" lengthAdjust="spacingAndGlyphs">°C</text>
<rect x="104.3" y="1" width="16.9" height="6.4" fill="rgba(10,30,80,0.5)"/>
<text x="120.6" y="6.6" font-family='"Liberation Serif", serif' font-size="7" fill="#fff" text-anchor="end">300.0</text>
<rect x="107.7" y="67.8" width="13.5" height="6.4" fill="rgba(10,30,80,0.5)"/>
<text x="120.6" y="73.4" font-family='"Liberation Serif", serif' font-size="7" fill="#fff" text-anchor="end">15.0</text>
<rect x="114.2" y="8.9" width="6.2" height="57.8" fill="url(#g3)"/>
<g fill="#fff"><path d="M4 68.8l2 1.6h-4zM4 73.5l2-1.6h-4z"/><rect x="2" y="70.7" width="4" height="0.9"/></g>
<text x="7" y="72.60000000000001" font-family='"Liberation Sans", sans-serif' font-size="3.9" font-weight="bold" fill="#fff" textLength="13.3" lengthAdjust="spacingAndGlyphs">FLIR</text>
<text x="58" y="61.4" font-family='"Liberation Sans", sans-serif' font-size="14.8" fill="#000" text-anchor="middle">49.9</text>
</g>
<linearGradient id="g4" x1="0" y1="0" x2="0" y2="1"><stop offset="0.000" stop-color="#fbf3e6"/><stop offset="0.165" stop-color="#f8e0d0"/><stop offset="0.375" stop-color="#f4a4aa"/><stop offset="0.555" stop-color="#f0486c"/><stop offset="0.675" stop-color="#f02a3c"/><stop offset="0.750" stop-color="#f03a30"/><stop offset="0.812" stop-color="#f58a20"/><stop offset="0.875" stop-color="#f2e428"/><stop offset="0.930" stop-color="#58cc3c"/><stop offset="0.975" stop-color="#2a50c0"/><stop offset="1.000" stop-color="#2a50c0"/></linearGradient>
<clipPath id="c4"><rect x="0" y="0" width="122.4" height="74.6"/></clipPath>
<g transform="translate(529.2,114.2)" clip-path="url(#c4)">
<rect x="-2" y="-2" width="126.4" height="78.6" fill="#2e6adc"/>
<ellipse cx="25" cy="45" rx="25" ry="20" fill="#3a7ee0" filter="url(#b9)" opacity="0.6"/>
<ellipse cx="100" cy="20" rx="40" ry="20" fill="#2a64d6" filter="url(#b9)" opacity="0.6"/>
<path d="M33.1 27.2L80.0 22.0L88.5 47.3L90.7 59.0L80.0 73.0L35.3 67.3z" fill="#38a0ea" stroke="#38a0ea" stroke-width="6" stroke-linecap="round" stroke-linejoin="round" filter="url(#b6)" opacity="0.55"/>
<path d="M38.4 29.1L78.2 24.6L85.4 46.1L87.3 56.1L78.2 67.9L40.3 63.1z" fill="#34c4d0" stroke="#34c4d0" stroke-width="7" stroke-linecap="round" stroke-linejoin="round" filter="url(#b2_5)" opacity="0.9"/>
<path d="M41.8 29.8L77.0 25.8L83.4 44.8L85.0 53.6L77.0 64.1L43.5 59.8z" fill="#44d44c" stroke="#44d44c" stroke-width="8" stroke-linecap="round" stroke-linejoin="round" filter="url(#b1_8)" opacity="1"/>
<path d="M23 35L30 27L37 22" fill="none" stroke="#38b8c8" stroke-width="1.8" stroke-linecap="round" stroke-linejoin="round" filter="url(#b1_2)" opacity="0.8"/><path d="M37 22.5L52 16.5" fill="none" stroke="#40b890" stroke-width="3.2" stroke-linecap="round" stroke-linejoin="round" filter="url(#b0_8)" opacity="0.95"/>
<path d="M45.8 31.7L75.6 28.4L81.0 44.4L82.4 51.9L75.6 60.8L47.2 57.1z" fill="#a8e234" stroke="#a8e234" stroke-width="6.5" stroke-linecap="round" stroke-linejoin="round" filter="url(#b1_8)" opacity="1"/>
<path d="M44.3 47.5L81.3 44.5L84.3 54.5L76.3 60.5L45.3 57.5z" fill="#e4e830" filter="url(#b2_5)" opacity="0.4"/>
<path d="M47.3 28.5L73.3 25.5L78.3 44.5L71.3 51.5L48.3 49.5z" fill="#f0e830" stroke="#f0e830" stroke-width="2" stroke-linecap="round" stroke-linejoin="round" filter="url(#b2_5)" opacity="1"/>
<rect x="49.35" y="25.15" width="23.5" height="22.700000000000003" rx="5.05" fill="#f8b428" filter="url(#b1_2)" opacity="1"/>
<rect x="50.46" y="26.459999999999997" width="21.48" height="20.279999999999998" rx="4.55" fill="#f89030" filter="url(#b0_8)" opacity="0.9"/>
<rect x="53.699999999999996" y="26.3" width="13.6" height="4.4" rx="2" fill="#c0e030" filter="url(#b0_5)" opacity="1"/>
<rect x="54.699999999999996" y="27.0" width="11.6" height="3.1" rx="1.5" fill="#58c468" filter="url(#b0_5)" opacity="1"/>
<rect x="58.099999999999994" y="26.7" width="4.4" height="1.8" rx="0.8" fill="#a8d838" filter="url(#b0_5)" opacity="1"/>
<rect x="54.699999999999996" y="39.5" width="15" height="6" rx="2.4" fill="#d0e430" filter="url(#b0_5)" opacity="1"/>
<rect x="55.699999999999996" y="40.3" width="13" height="4.4" rx="2" fill="#38b0c8" filter="url(#b0_5)" opacity="1"/>
<rect x="56.699999999999996" y="41.0" width="4" height="3" rx="1.2" fill="#2c78d8" filter="url(#b0_5)" opacity="1"/>
<rect x="63.699999999999996" y="41.0" width="4" height="3" rx="1.2" fill="#2c78d8" filter="url(#b0_5)" opacity="1"/>
<rect x="60.9" y="40.3" width="2.6" height="4.4" rx="0.5" fill="#a0dc38" filter="url(#b0_5)" opacity="1"/>
<rect x="51.4" y="31.3" width="19.8" height="8.4" rx="2.2" fill="#f03450" filter="url(#b0_8)" opacity="1"/>
<rect x="53.3" y="32.7" width="16" height="5.2" rx="2" fill="#f24c6c" filter="url(#b0_8)" opacity="1"/>
<rect x="2.2" y="1" width="7.9" height="6.5" fill="rgba(10,30,80,0.5)"/>
<text x="2.9" y="6.3" font-family='"Liberation Serif", serif' font-size="6.4" fill="#fff" textLength="6.6" lengthAdjust="spacingAndGlyphs">°C</text>
<rect x="104.7" y="1" width="16.9" height="6.4" fill="rgba(10,30,80,0.5)"/>
<text x="121.0" y="6.6" font-family='"Liberation Serif", serif' font-size="7" fill="#fff" text-anchor="end">300.0</text>
<rect x="108.10000000000001" y="67.19999999999999" width="13.5" height="6.4" fill="rgba(10,30,80,0.5)"/>
<text x="121.0" y="72.8" font-family='"Liberation Serif", serif' font-size="7" fill="#fff" text-anchor="end">15.0</text>
<rect x="114.60000000000001" y="8.9" width="6.2" height="57.19999999999999" fill="url(#g4)"/>
<g fill="#fff"><path d="M4 68.19999999999999l2 1.6h-4zM4 72.89999999999999l2-1.6h-4z"/><rect x="2" y="70.1" width="4" height="0.9"/></g>
<text x="7" y="72.0" font-family='"Liberation Sans", sans-serif' font-size="3.9" font-weight="bold" fill="#fff" textLength="13.3" lengthAdjust="spacingAndGlyphs">FLIR</text>
<text x="58.2" y="58.3" font-family='"Liberation Sans", sans-serif' font-size="14.8" fill="#000" text-anchor="middle">81.5</text>
</g>
<linearGradient id="g5" x1="0" y1="0" x2="0" y2="1"><stop offset="0.000" stop-color="#fbf3e6"/><stop offset="0.169" stop-color="#f8e0d0"/><stop offset="0.385" stop-color="#f4a4aa"/><stop offset="0.570" stop-color="#f0486c"/><stop offset="0.693" stop-color="#f02a3c"/><stop offset="0.770" stop-color="#f03a30"/><stop offset="0.828" stop-color="#f58a20"/><stop offset="0.885" stop-color="#f2e428"/><stop offset="0.936" stop-color="#58cc3c"/><stop offset="0.977" stop-color="#2a50c0"/><stop offset="1.000" stop-color="#2a50c0"/></linearGradient>
<clipPath id="c5"><rect x="0" y="0" width="122.2" height="74.2"/></clipPath>
<g transform="translate(362.2,198.2)" clip-path="url(#c5)">
<rect x="-2" y="-2" width="126.2" height="78.2" fill="#2a62d2"/>
<ellipse cx="12" cy="45" rx="16" ry="25" fill="#3a7ade" filter="url(#b4)" opacity="0.6"/>
<path d="M96 -2L128 -2L128 80L84 80z" fill="#3474de" filter="url(#b2_5)" opacity="0.7"/>
<ellipse cx="61.8" cy="43.2" rx="33" ry="36" fill="#3a98ea" filter="url(#b6)" opacity="0.6"/>
<ellipse cx="61.8" cy="44.2" rx="27" ry="32.0" fill="#34c0d8" filter="url(#b4)" opacity="0.75"/>
<ellipse cx="47.3" cy="13.7" rx="7.6" ry="3.8" fill="#68d048" filter="url(#b1_2)" opacity="1" transform="rotate(-40 47.3 13.7)"/>
<ellipse cx="47.8" cy="13.2" rx="5" ry="2.1" fill="#b0e030" filter="url(#b0_8)" opacity="1" transform="rotate(-40 47.8 13.2)"/>
<path d="M43.8 21.2q-9 4 -7 13q2 6 8 6" fill="none" stroke="#48c858" stroke-width="1.3" stroke-linecap="round" stroke-linejoin="round" filter="url(#b0_8)" opacity="0.9"/>
<ellipse cx="62.099999999999994" cy="41.95" rx="22.5" ry="25.25" fill="#48d048" filter="url(#b1_8)" opacity="1"/>
<ellipse cx="62.599999999999994" cy="49.92" rx="24" ry="16.560000000000002" fill="#48d048" filter="url(#b1_8)" opacity="1"/>
<rect x="40.3" y="16.7" width="43.5" height="32" rx="11" fill="#48d048" filter="url(#b1_8)" opacity="1"/>
<ellipse cx="63.0" cy="34.7" rx="18" ry="16.5" fill="#b4e430" filter="url(#b1_8)" opacity="1"/>
<ellipse cx="63.3" cy="41.6" rx="19" ry="8.8" fill="#b4e430" filter="url(#b1_8)" opacity="1"/>
<rect x="45.3" y="18.2" width="36" height="28" rx="9" fill="#b4e430" filter="url(#b1_8)" opacity="1"/>
<ellipse cx="62.8" cy="33.7" rx="14.5" ry="14.0" fill="#f0e830" filter="url(#b1_8)" opacity="1"/>
<g transform="translate(61.8,31.2) scale(1.0) translate(-61.8,-31.2)">
<rect x="49.85" y="20.849999999999998" width="23.5" height="22.700000000000003" rx="5.05" fill="#f8b428" filter="url(#b1_2)" opacity="1"/>
<rect x="50.96" y="22.16" width="21.48" height="20.279999999999998" rx="4.55" fill="#f89030" filter="url(#b0_8)" opacity="0.9"/>
<rect x="54.199999999999996" y="22.0" width="13.6" height="4.4" rx="2" fill="#c0e030" filter="url(#b0_5)" opacity="1"/>
<rect x="55.199999999999996" y="22.7" width="11.6" height="3.1" rx="1.5" fill="#58c468" filter="url(#b0_5)" opacity="1"/>
<rect x="58.599999999999994" y="22.4" width="4.4" height="1.8" rx="0.8" fill="#a8d838" filter="url(#b0_5)" opacity="1"/>
<rect x="55.199999999999996" y="35.2" width="15" height="6" rx="2.4" fill="#d0e430" filter="url(#b0_5)" opacity="1"/>
<rect x="56.199999999999996" y="36.0" width="13" height="4.4" rx="2" fill="#38b0c8" filter="url(#b0_5)" opacity="1"/>
<rect x="57.199999999999996" y="36.7" width="4" height="3" rx="1.2" fill="#2c78d8" filter="url(#b0_5)" opacity="1"/>
<rect x="64.2" y="36.7" width="4" height="3" rx="1.2" fill="#2c78d8" filter="url(#b0_5)" opacity="1"/>
<rect x="61.4" y="36.0" width="2.6" height="4.4" rx="0.5" fill="#a0dc38" filter="url(#b0_5)" opacity="1"/>
<rect x="51.9" y="27.0" width="19.8" height="8.4" rx="2.2" fill="#f03450" filter="url(#b0_8)" opacity="1"/>
<rect x="53.8" y="28.4" width="16" height="5.2" rx="2" fill="#f24c6c" filter="url(#b0_8)" opacity="1"/>
</g>
<rect x="2.2" y="1" width="7.9" height="6.5" fill="rgba(10,30,80,0.5)"/>
<text x="2.9" y="6.3" font-family='"Liberation Serif", serif' font-size="6.4" fill="#fff" textLength="6.6" lengthAdjust="spacingAndGlyphs">°C</text>
<rect x="104.5" y="1" width="16.9" height="6.4" fill="rgba(10,30,80,0.5)"/>
<text x="120.8" y="6.6" font-family='"Liberation Serif", serif' font-size="7" fill="#fff" text-anchor="end">300.0</text>
<rect x="107.9" y="66.8" width="13.5" height="6.4" fill="rgba(10,30,80,0.5)"/>
<text x="120.8" y="72.4" font-family='"Liberation Serif", serif' font-size="7" fill="#fff" text-anchor="end">15.0</text>
<rect x="114.4" y="8.9" width="6.2" height="56.8" fill="url(#g5)"/>
<g fill="#fff"><path d="M4 67.8l2 1.6h-4zM4 72.5l2-1.6h-4z"/><rect x="2" y="69.7" width="4" height="0.9"/></g>
<text x="7" y="71.60000000000001" font-family='"Liberation Sans", sans-serif' font-size="3.9" font-weight="bold" fill="#fff" textLength="13.3" lengthAdjust="spacingAndGlyphs">FLIR</text>
<text x="59.3" y="60.3" font-family='"Liberation Sans", sans-serif' font-size="14.8" fill="#000" text-anchor="middle">78.5</text>
</g>
<linearGradient id="g6" x1="0" y1="0" x2="0" y2="1"><stop offset="0.000" stop-color="#fbf3e6"/><stop offset="0.161" stop-color="#f8e0d0"/><stop offset="0.365" stop-color="#f4a4aa"/><stop offset="0.540" stop-color="#f0486c"/><stop offset="0.657" stop-color="#f02a3c"/><stop offset="0.730" stop-color="#f03a30"/><stop offset="0.797" stop-color="#f58a20"/><stop offset="0.865" stop-color="#f2e428"/><stop offset="0.924" stop-color="#58cc3c"/><stop offset="0.973" stop-color="#2a50c0"/><stop offset="1.000" stop-color="#2a50c0"/></linearGradient>
<clipPath id="c6"><rect x="0" y="0" width="122.2" height="74.6"/></clipPath>
<g transform="translate(529.2,199.2)" clip-path="url(#c6)">
<rect x="-2" y="-2" width="126.2" height="78.6" fill="#2c64d8"/>
<ellipse cx="20" cy="52" rx="30" ry="24" fill="#3c82e4" filter="url(#b9)" opacity="0.7"/>
<ellipse cx="95" cy="12" rx="50" ry="20" fill="#2458d0" filter="url(#b9)" opacity="0.7"/>
<path d="M32.0 24.0L80.1 21.7L87.1 45.5L89.2 56.1L80.1 70.9L35.4 66.3z" fill="#38a0ea" stroke="#38a0ea" stroke-width="6" stroke-linecap="round" stroke-linejoin="round" filter="url(#b6)" opacity="0.65"/>
<path d="M37.4 26.0L78.1 24.1L84.1 44.3L85.9 53.3L78.1 65.9L40.2 62.0z" fill="#34c4d0" stroke="#34c4d0" stroke-width="7" stroke-linecap="round" stroke-linejoin="round" filter="url(#b2_5)" opacity="0.9"/>
<path d="M40.8 26.8L76.9 25.2L82.2 43.0L83.8 51.0L76.9 62.0L43.4 58.6z" fill="#44d44c" stroke="#44d44c" stroke-width="8" stroke-linecap="round" stroke-linejoin="round" filter="url(#b1_8)" opacity="1"/>
<path d="M22 42L27 33L37 23" fill="none" stroke="#38b8c8" stroke-width="1.8" stroke-linecap="round" stroke-linejoin="round" filter="url(#b1_2)" opacity="0.8"/><path d="M37 23.5L51 14.5" fill="none" stroke="#50c858" stroke-width="3.6" stroke-linecap="round" stroke-linejoin="round" filter="url(#b0_8)" opacity="0.95"/>
<path d="M46.8 30.2L74.7 28.9L78.8 42.7L80.0 48.9L74.7 57.5L48.8 54.8z" fill="#a8e234" stroke="#a8e234" stroke-width="6.5" stroke-linecap="round" stroke-linejoin="round" filter="url(#b1_8)" opacity="1"/>
<path d="M43.5 45.7L80.5 42.7L83.5 52.7L75.5 58.7L44.5 55.7z" fill="#e4e830" filter="url(#b2_5)" opacity="0.0"/>
<path d="M46.5 26.700000000000003L72.5 23.700000000000003L77.5 42.7L70.5 49.7L47.5 47.7z" fill="#f0e830" stroke="#f0e830" stroke-width="2" stroke-linecap="round" stroke-linejoin="round" filter="url(#b2_5)" opacity="1"/>
<rect x="48.550000000000004" y="23.35" width="23.5" height="22.700000000000003" rx="5.05" fill="#f8b428" filter="url(#b1_2)" opacity="1"/>
<rect x="49.660000000000004" y="24.66" width="21.48" height="20.279999999999998" rx="4.55" fill="#f89030" filter="url(#b0_8)" opacity="0.9"/>
<rect x="52.9" y="24.500000000000004" width="13.6" height="4.4" rx="2" fill="#c0e030" filter="url(#b0_5)" opacity="1"/>
<rect x="53.9" y="25.200000000000003" width="11.6" height="3.1" rx="1.5" fill="#58c468" filter="url(#b0_5)" opacity="1"/>
<rect x="57.3" y="24.900000000000002" width="4.4" height="1.8" rx="0.8" fill="#a8d838" filter="url(#b0_5)" opacity="1"/>
<rect x="53.9" y="37.7" width="15" height="6" rx="2.4" fill="#d0e430" filter="url(#b0_5)" opacity="1"/>
<rect x="54.9" y="38.5" width="13" height="4.4" rx="2" fill="#38b0c8" filter="url(#b0_5)" opacity="1"/>
<rect x="55.9" y="39.2" width="4" height="3" rx="1.2" fill="#2c78d8" filter="url(#b0_5)" opacity="1"/>
<rect x="62.9" y="39.2" width="4" height="3" rx="1.2" fill="#2c78d8" filter="url(#b0_5)" opacity="1"/>
<rect x="60.1" y="38.5" width="2.6" height="4.4" rx="0.5" fill="#a0dc38" filter="url(#b0_5)" opacity="1"/>
<rect x="50.6" y="29.500000000000004" width="19.8" height="8.4" rx="2.2" fill="#f03450" filter="url(#b0_8)" opacity="1"/>
<rect x="52.5" y="30.900000000000002" width="16" height="5.2" rx="2" fill="#f24c6c" filter="url(#b0_8)" opacity="1"/>
<rect x="2.2" y="1" width="7.9" height="6.5" fill="rgba(10,30,80,0.5)"/>
<text x="2.9" y="6.3" font-family='"Liberation Serif", serif' font-size="6.4" fill="#fff" textLength="6.6" lengthAdjust="spacingAndGlyphs">°C</text>
<rect x="104.5" y="1" width="16.9" height="6.4" fill="rgba(10,30,80,0.5)"/>
<text x="120.8" y="6.6" font-family='"Liberation Serif", serif' font-size="7" fill="#fff" text-anchor="end">300.0</text>
<rect x="107.9" y="67.19999999999999" width="13.5" height="6.4" fill="rgba(10,30,80,0.5)"/>
<text x="120.8" y="72.8" font-family='"Liberation Serif", serif' font-size="7" fill="#fff" text-anchor="end">15.0</text>
<rect x="114.4" y="8.9" width="6.2" height="57.19999999999999" fill="url(#g6)"/>
<g fill="#fff"><path d="M4 68.19999999999999l2 1.6h-4zM4 72.89999999999999l2-1.6h-4z"/><rect x="2" y="70.1" width="4" height="0.9"/></g>
<text x="7" y="72.0" font-family='"Liberation Sans", sans-serif' font-size="3.9" font-weight="bold" fill="#fff" textLength="13.3" lengthAdjust="spacingAndGlyphs">FLIR</text>
<text x="56.6" y="58.9" font-family='"Liberation Sans", sans-serif' font-size="14.8" fill="#000" text-anchor="middle">107</text>
</g>
<linearGradient id="g7" x1="0" y1="0" x2="0" y2="1"><stop offset="0.000" stop-color="#fbf3e6"/><stop offset="0.152" stop-color="#f8e0d0"/><stop offset="0.345" stop-color="#f4a4aa"/><stop offset="0.511" stop-color="#f0486c"/><stop offset="0.621" stop-color="#f02a3c"/><stop offset="0.690" stop-color="#f03a30"/><stop offset="0.767" stop-color="#f58a20"/><stop offset="0.845" stop-color="#f2e428"/><stop offset="0.913" stop-color="#58cc3c"/><stop offset="0.969" stop-color="#2a50c0"/><stop offset="1.000" stop-color="#2a50c0"/></linearGradient>
<clipPath id="c7"><rect x="0" y="0" width="122.2" height="74"/></clipPath>
<g transform="translate(362.2,284.8)" clip-path="url(#c7)">
<rect x="-2" y="-2" width="126.2" height="78" fill="#2852c6"/>
<ellipse cx="10" cy="48" rx="14" ry="24" fill="#3068d8" filter="url(#b4)" opacity="0.6"/>
<ellipse cx="110" cy="42" rx="18" ry="38" fill="#2e64d6" filter="url(#b6)" opacity="0.6"/>
<ellipse cx="60" cy="66" rx="34" ry="16" fill="#3a84e6" filter="url(#b6)" opacity="0.8"/>
<ellipse cx="61.5" cy="43.3" rx="33" ry="36" fill="#3a98ea" filter="url(#b6)" opacity="0.6"/>
<ellipse cx="61.5" cy="39.3" rx="27" ry="27.0" fill="#34c0d8" filter="url(#b4)" opacity="0.75"/>
<ellipse cx="47.9" cy="16.3" rx="6.8" ry="3.3" fill="#44b850" filter="url(#b1_2)" opacity="1" transform="rotate(-52 47.9 16.3)"/>
<ellipse cx="48.1" cy="16.0" rx="4" ry="1.5" fill="#80d838" filter="url(#b0_8)" opacity="1" transform="rotate(-52 48.1 16.0)"/>
<ellipse cx="61.8" cy="37.05" rx="20.8" ry="20.25" fill="#48d048" filter="url(#b1_8)" opacity="1"/>
<ellipse cx="62.1" cy="32.3" rx="17" ry="14.0" fill="#b4e430" filter="url(#b1_8)" opacity="1"/>
<ellipse cx="62.5" cy="33.8" rx="14.935" ry="14.42" fill="#f0e830" filter="url(#b1_8)" opacity="1"/>
<g transform="translate(61.5,31.3) scale(1.03) translate(-61.5,-31.3)">
<rect x="49.0" y="20.4" width="24.599999999999998" height="23.8" rx="5.6" fill="#f8b428" filter="url(#b1_2)" opacity="1"/>
<rect x="50.22" y="21.820000000000004" width="22.360000000000003" height="21.16" rx="5.1" fill="#f88430" filter="url(#b0_8)" opacity="0.9"/>
<rect x="53.9" y="22.1" width="13.6" height="4.4" rx="2" fill="#c0e030" filter="url(#b0_5)" opacity="1"/>
<rect x="54.9" y="22.8" width="11.6" height="3.1" rx="1.5" fill="#58c468" filter="url(#b0_5)" opacity="1"/>
<rect x="58.3" y="22.5" width="4.4" height="1.8" rx="0.8" fill="#a8d838" filter="url(#b0_5)" opacity="1"/>
<rect x="54.9" y="35.3" width="15" height="6" rx="2.4" fill="#d0e430" filter="url(#b0_5)" opacity="1"/>
<rect x="55.9" y="36.1" width="13" height="4.4" rx="2" fill="#38b0c8" filter="url(#b0_5)" opacity="1"/>
<rect x="56.9" y="36.8" width="4" height="3" rx="1.2" fill="#2c78d8" filter="url(#b0_5)" opacity="1"/>
<rect x="63.9" y="36.8" width="4" height="3" rx="1.2" fill="#2c78d8" filter="url(#b0_5)" opacity="1"/>
<rect x="61.1" y="36.1" width="2.6" height="4.4" rx="0.5" fill="#a0dc38" filter="url(#b0_5)" opacity="1"/>
<rect x="51.6" y="27.1" width="19.8" height="8.4" rx="2.2" fill="#f03450" filter="url(#b0_8)" opacity="1"/>
<rect x="53.5" y="28.5" width="16" height="5.2" rx="2" fill="#f45878" filter="url(#b0_8)" opacity="1"/>
<rect x="55.0" y="29.1" width="13" height="3.8" rx="1.6" fill="#f8a0b0" filter="url(#b0_8)" opacity="1"/>
</g>
<rect x="2.2" y="1" width="7.9" height="6.5" fill="rgba(10,30,80,0.5)"/>
<text x="2.9" y="6.3" font-family='"Liberation Serif", serif' font-size="6.4" fill="#fff" textLength="6.6" lengthAdjust="spacingAndGlyphs">°C</text>
<rect x="104.5" y="1" width="16.9" height="6.4" fill="rgba(10,30,80,0.5)"/>
<text x="120.8" y="6.6" font-family='"Liberation Serif", serif' font-size="7" fill="#fff" text-anchor="end">300.0</text>
<rect x="107.9" y="66.6" width="13.5" height="6.4" fill="rgba(10,30,80,0.5)"/>
<text x="120.8" y="72.2" font-family='"Liberation Serif", serif' font-size="7" fill="#fff" text-anchor="end">15.0</text>
<rect x="114.4" y="8.9" width="6.2" height="56.599999999999994" fill="url(#g7)"/>
<g fill="#fff"><path d="M4 67.6l2 1.6h-4zM4 72.3l2-1.6h-4z"/><rect x="2" y="69.5" width="4" height="0.9"/></g>
<text x="7" y="71.4" font-family='"Liberation Sans", sans-serif' font-size="3.9" font-weight="bold" fill="#fff" textLength="13.3" lengthAdjust="spacingAndGlyphs">FLIR</text>
<text x="57" y="60.7" font-family='"Liberation Sans", sans-serif' font-size="14.8" fill="#000" text-anchor="middle">127</text>
</g>
<linearGradient id="g8" x1="0" y1="0" x2="0" y2="1"><stop offset="0.000" stop-color="#fbf3e6"/><stop offset="0.147" stop-color="#f8e0d0"/><stop offset="0.335" stop-color="#f4a4aa"/><stop offset="0.496" stop-color="#f0486c"/><stop offset="0.603" stop-color="#f02a3c"/><stop offset="0.670" stop-color="#f03a30"/><stop offset="0.752" stop-color="#f58a20"/><stop offset="0.835" stop-color="#f2e428"/><stop offset="0.908" stop-color="#58cc3c"/><stop offset="0.967" stop-color="#2a50c0"/><stop offset="1.000" stop-color="#2a50c0"/></linearGradient>
<clipPath id="c8"><rect x="0" y="0" width="122.2" height="74"/></clipPath>
<g transform="translate(528.2,285.8)" clip-path="url(#c8)">
<rect x="-2" y="-2" width="126.2" height="78" fill="#2a5cd0"/>
<ellipse cx="20" cy="52" rx="30" ry="24" fill="#3a7ee2" filter="url(#b9)" opacity="0.7"/>
<ellipse cx="95" cy="12" rx="50" ry="22" fill="#204cc4" filter="url(#b9)" opacity="0.7"/>
<path d="M34.2 25.7L78.8 22.2L86.9 45.6L89.1 55.5L78.8 68.0L36.5 65.8z" fill="#38a0ea" stroke="#38a0ea" stroke-width="6" stroke-linecap="round" stroke-linejoin="round" filter="url(#b6)" opacity="0.65"/>
<path d="M39.3 27.5L77.1 24.5L83.9 44.4L85.8 52.7L77.1 63.4L41.2 61.5z" fill="#34c4d0" stroke="#34c4d0" stroke-width="7" stroke-linecap="round" stroke-linejoin="round" filter="url(#b2_5)" opacity="0.9"/>
<path d="M42.5 28.1L76.0 25.5L82.0 43.0L83.7 50.4L76.0 59.8L44.2 58.1z" fill="#44d44c" stroke="#44d44c" stroke-width="8" stroke-linecap="round" stroke-linejoin="round" filter="url(#b1_8)" opacity="1"/>
<path d="M20 40L26 31L36 23" fill="none" stroke="#38b8c8" stroke-width="1.8" stroke-linecap="round" stroke-linejoin="round" filter="url(#b1_2)" opacity="0.8"/><path d="M36 23.5L52 16" fill="none" stroke="#44c080" stroke-width="3.6" stroke-linecap="round" stroke-linejoin="round" filter="url(#b0_8)" opacity="0.95"/>
<path d="M48.8 31.5L73.8 29.5L78.4 42.7L79.6 48.2L73.8 55.3L50.0 54.0z" fill="#a8e234" stroke="#a8e234" stroke-width="6.5" stroke-linecap="round" stroke-linejoin="round" filter="url(#b1_8)" opacity="1"/>
<path d="M44.3 47.8L81.3 44.8L84.3 54.8L76.3 60.8L45.3 57.8z" fill="#e4e830" filter="url(#b2_5)" opacity="0.0"/>
<path d="M47.3 28.799999999999997L73.3 25.799999999999997L78.3 44.8L71.3 51.8L48.3 49.8z" fill="#f0e830" stroke="#f0e830" stroke-width="2" stroke-linecap="round" stroke-linejoin="round" filter="url(#b2_5)" opacity="1"/>
<rect x="48.8" y="24.899999999999995" width="24.599999999999998" height="23.8" rx="5.6" fill="#f8b428" filter="url(#b1_2)" opacity="1"/>
<rect x="50.019999999999996" y="26.319999999999997" width="22.360000000000003" height="21.16" rx="5.1" fill="#f88430" filter="url(#b0_8)" opacity="0.9"/>
<rect x="53.699999999999996" y="26.599999999999998" width="13.6" height="4.4" rx="2" fill="#c0e030" filter="url(#b0_5)" opacity="1"/>
<rect x="54.699999999999996" y="27.299999999999997" width="11.6" height="3.1" rx="1.5" fill="#58c468" filter="url(#b0_5)" opacity="1"/>
<rect x="58.099999999999994" y="26.999999999999996" width="4.4" height="1.8" rx="0.8" fill="#a8d838" filter="url(#b0_5)" opacity="1"/>
<rect x="54.699999999999996" y="39.8" width="15" height="6" rx="2.4" fill="#d0e430" filter="url(#b0_5)" opacity="1"/>
<rect x="55.699999999999996" y="40.599999999999994" width="13" height="4.4" rx="2" fill="#38b0c8" filter="url(#b0_5)" opacity="1"/>
<rect x="56.699999999999996" y="41.3" width="4" height="3" rx="1.2" fill="#2c78d8" filter="url(#b0_5)" opacity="1"/>
<rect x="63.699999999999996" y="41.3" width="4" height="3" rx="1.2" fill="#2c78d8" filter="url(#b0_5)" opacity="1"/>
<rect x="60.9" y="40.599999999999994" width="2.6" height="4.4" rx="0.5" fill="#a0dc38" filter="url(#b0_5)" opacity="1"/>
<rect x="51.4" y="31.599999999999998" width="19.8" height="8.4" rx="2.2" fill="#f03450" filter="url(#b0_8)" opacity="1"/>
<rect x="53.3" y="33.0" width="16" height="5.2" rx="2" fill="#f45878" filter="url(#b0_8)" opacity="1"/>
<rect x="54.8" y="33.599999999999994" width="13" height="3.8" rx="1.6" fill="#f8a0b0" filter="url(#b0_8)" opacity="1"/>
<rect x="2.2" y="1" width="7.9" height="6.5" fill="rgba(10,30,80,0.5)"/>
<text x="2.9" y="6.3" font-family='"Liberation Serif", serif' font-size="6.4" fill="#fff" textLength="6.6" lengthAdjust="spacingAndGlyphs">°C</text>
<rect x="104.5" y="1" width="16.9" height="6.4" fill="rgba(10,30,80,0.5)"/>
<text x="120.8" y="6.6" font-family='"Liberation Serif", serif' font-size="7" fill="#fff" text-anchor="end">300.0</text>
<rect x="107.9" y="66.6" width="13.5" height="6.4" fill="rgba(10,30,80,0.5)"/>
<text x="120.8" y="72.2" font-family='"Liberation Serif", serif' font-size="7" fill="#fff" text-anchor="end">15.0</text>
<rect x="114.4" y="8.9" width="6.2" height="56.599999999999994" fill="url(#g8)"/>
<g fill="#fff"><path d="M4 67.6l2 1.6h-4zM4 72.3l2-1.6h-4z"/><rect x="2" y="69.5" width="4" height="0.9"/></g>
<text x="7" y="71.4" font-family='"Liberation Sans", sans-serif' font-size="3.9" font-weight="bold" fill="#fff" textLength="13.3" lengthAdjust="spacingAndGlyphs">FLIR</text>
<text x="57.6" y="59.7" font-family='"Liberation Sans", sans-serif' font-size="14.8" fill="#000" text-anchor="middle">129</text>
</g>
<linearGradient id="g9" x1="0" y1="0" x2="0" y2="1"><stop offset="0.000" stop-color="#fbf3e6"/><stop offset="0.136" stop-color="#f8e0d0"/><stop offset="0.310" stop-color="#f4a4aa"/><stop offset="0.459" stop-color="#f0486c"/><stop offset="0.558" stop-color="#f02a3c"/><stop offset="0.620" stop-color="#f03a30"/><stop offset="0.715" stop-color="#f58a20"/><stop offset="0.810" stop-color="#f2e428"/><stop offset="0.894" stop-color="#58cc3c"/><stop offset="0.962" stop-color="#2a50c0"/><stop offset="1.000" stop-color="#2a50c0"/></linearGradient>
<clipPath id="c9"><rect x="0" y="0" width="122.2" height="75"/></clipPath>
<g transform="translate(362.2,370.2)" clip-path="url(#c9)">
<rect x="-2" y="-2" width="126.2" height="79" fill="#2848b8"/>
<path d="M-2 40Q12 44 20 62L24 80L-2 80z" fill="#3060d0" filter="url(#b1_8)" opacity="0.7"/>
<ellipse cx="112" cy="40" rx="14" ry="40" fill="#2c5ccc" filter="url(#b4)" opacity="0.6"/>
<rect x="33" y="15" width="58" height="66" rx="14" fill="#3a80e2" filter="url(#b4)" opacity="0.85"/>
<ellipse cx="60.6" cy="36.9" rx="27" ry="24.5" fill="#34c0d8" filter="url(#b4)" opacity="0.75"/>
<ellipse cx="48.6" cy="15.399999999999999" rx="6.8" ry="3.3" fill="#44b850" filter="url(#b1_2)" opacity="1" transform="rotate(-58 48.6 15.399999999999999)"/>
<ellipse cx="48.6" cy="15.399999999999999" rx="3.6" ry="1.3" fill="#3088d0" filter="url(#b0_8)" opacity="1" transform="rotate(-58 48.6 15.399999999999999)"/>
<ellipse cx="60.9" cy="34.65" rx="20.8" ry="17.75" fill="#48d048" filter="url(#b1_8)" opacity="1"/>
<ellipse cx="61.2" cy="30.9" rx="17" ry="12.5" fill="#b4e430" filter="url(#b1_8)" opacity="1"/>
<ellipse cx="61.6" cy="33.9" rx="15.950000000000001" ry="15.400000000000002" fill="#f0e830" filter="url(#b1_8)" opacity="1"/>
<g transform="translate(60.6,31.4) scale(1.1) translate(-60.6,-31.4)">
<rect x="47.550000000000004" y="19.95" width="25.7" height="24.900000000000002" rx="6.15" fill="#f8b428" filter="url(#b1_2)" opacity="1"/>
<rect x="48.88" y="21.479999999999997" width="23.240000000000002" height="22.04" rx="5.65" fill="#f88430" filter="url(#b0_8)" opacity="0.9"/>
<rect x="53.0" y="22.2" width="13.6" height="4.4" rx="2" fill="#c0e030" filter="url(#b0_5)" opacity="1"/>
<rect x="54.0" y="22.9" width="11.6" height="3.1" rx="1.5" fill="#50c848" filter="url(#b0_5)" opacity="1"/>
<rect x="57.4" y="22.599999999999998" width="4.4" height="1.8" rx="0.8" fill="#a8d838" filter="url(#b0_5)" opacity="1"/>
<rect x="54.0" y="35.4" width="15" height="6" rx="2.4" fill="#d0e430" filter="url(#b0_5)" opacity="1"/>
<rect x="55.0" y="36.199999999999996" width="13" height="4.4" rx="2" fill="#38b0c8" filter="url(#b0_5)" opacity="1"/>
<rect x="56.0" y="36.9" width="4" height="3" rx="1.2" fill="#2c78d8" filter="url(#b0_5)" opacity="1"/>
<rect x="63.0" y="36.9" width="4" height="3" rx="1.2" fill="#2c78d8" filter="url(#b0_5)" opacity="1"/>
<rect x="60.2" y="36.199999999999996" width="2.6" height="4.4" rx="0.5" fill="#a0dc38" filter="url(#b0_5)" opacity="1"/>
<rect x="50.7" y="27.2" width="19.8" height="8.4" rx="2.2" fill="#f03450" filter="url(#b0_8)" opacity="1"/>
<rect x="52.6" y="28.599999999999998" width="16" height="5.2" rx="2" fill="#f45878" filter="url(#b0_8)" opacity="1"/>
<rect x="54.1" y="29.2" width="13" height="3.8" rx="1.6" fill="#f8a0b0" filter="url(#b0_8)" opacity="1"/>
<rect x="54.6" y="29.299999999999997" width="12" height="3.6" rx="1.6" fill="#fbeee4" filter="url(#b0_8)" opacity="1"/>
</g>
<rect x="2.2" y="1" width="7.9" height="6.5" fill="rgba(10,30,80,0.5)"/>
<text x="2.9" y="6.3" font-family='"Liberation Serif", serif' font-size="6.4" fill="#fff" textLength="6.6" lengthAdjust="spacingAndGlyphs">°C</text>
<rect x="104.5" y="1" width="16.9" height="6.4" fill="rgba(10,30,80,0.5)"/>
<text x="120.8" y="6.6" font-family='"Liberation Serif", serif' font-size="7" fill="#fff" text-anchor="end">300.0</text>
<rect x="107.9" y="67.6" width="13.5" height="6.4" fill="rgba(10,30,80,0.5)"/>
<text x="120.8" y="73.2" font-family='"Liberation Serif", serif' font-size="7" fill="#fff" text-anchor="end">15.0</text>
<rect x="114.4" y="8.9" width="6.2" height="57.599999999999994" fill="url(#g9)"/>
<g fill="#fff"><path d="M4 68.6l2 1.6h-4zM4 73.3l2-1.6h-4z"/><rect x="2" y="70.5" width="4" height="0.9"/></g>
<text x="7" y="72.4" font-family='"Liberation Sans", sans-serif' font-size="3.9" font-weight="bold" fill="#fff" textLength="13.3" lengthAdjust="spacingAndGlyphs">FLIR</text>
<text x="59.7" y="61.3" font-family='"Liberation Sans", sans-serif' font-size="14.8" fill="#000" text-anchor="middle">*167</text>
</g>
<linearGradient id="g10" x1="0" y1="0" x2="0" y2="1"><stop offset="0.000" stop-color="#fbf3e6"/><stop offset="0.139" stop-color="#f8e0d0"/><stop offset="0.315" stop-color="#f4a4aa"/><stop offset="0.466" stop-color="#f0486c"/><stop offset="0.567" stop-color="#f02a3c"/><stop offset="0.630" stop-color="#f03a30"/><stop offset="0.723" stop-color="#f58a20"/><stop offset="0.815" stop-color="#f2e428"/><stop offset="0.896" stop-color="#58cc3c"/><stop offset="0.963" stop-color="#2a50c0"/><stop offset="1.000" stop-color="#2a50c0"/></linearGradient>
<clipPath id="c10"><rect x="0" y="0" width="122.2" height="74.6"/></clipPath>
<g transform="translate(528.4,370.8)" clip-path="url(#c10)">
<rect x="-2" y="-2" width="126.2" height="78.6" fill="#2858cc"/>
<ellipse cx="20" cy="54" rx="32" ry="24" fill="#3a7ce2" filter="url(#b9)" opacity="0.75"/>
<ellipse cx="95" cy="12" rx="50" ry="22" fill="#204cc4" filter="url(#b9)" opacity="0.7"/>
<path d="M34.7 26.8L76.0 22.2L86.8 42.7L89.6 52.0L78.2 68.0L37.1 65.7z" fill="#38a0ea" stroke="#38a0ea" stroke-width="6" stroke-linecap="round" stroke-linejoin="round" filter="url(#b6)" opacity="0.75"/>
<path d="M39.6 28.3L74.6 24.4L83.8 41.8L86.2 49.6L76.5 63.2L41.6 61.2z" fill="#34c4d0" stroke="#34c4d0" stroke-width="7" stroke-linecap="round" stroke-linejoin="round" filter="url(#b2_5)" opacity="0.9"/>
<path d="M42.8 28.7L73.7 25.2L81.9 40.6L84.0 47.6L75.4 59.6L44.6 57.8z" fill="#44d44c" stroke="#44d44c" stroke-width="8" stroke-linecap="round" stroke-linejoin="round" filter="url(#b1_8)" opacity="1"/>
<path d="M22 40L17 30L20 26L31 20" fill="none" stroke="#38b8c8" stroke-width="1.8" stroke-linecap="round" stroke-linejoin="round" filter="url(#b1_2)" opacity="0.8"/><path d="M31 20.5L51 13" fill="none" stroke="#54cc58" stroke-width="4" stroke-linecap="round" stroke-linejoin="round" filter="url(#b0_8)" opacity="0.95"/>
<path d="M48.9 31.7L72.1 29.1L78.2 40.7L79.8 45.9L73.3 54.9L50.2 53.6z" fill="#a8e234" stroke="#a8e234" stroke-width="6.5" stroke-linecap="round" stroke-linejoin="round" filter="url(#b1_8)" opacity="1"/>
<path d="M43.7 47.1L80.7 44.1L83.7 54.1L75.7 60.1L44.7 57.1z" fill="#e4e830" filter="url(#b2_5)" opacity="0.0"/>
<path d="M46.7 28.1L72.7 25.1L77.7 44.1L70.7 51.1L47.7 49.1z" fill="#f0e830" stroke="#f0e830" stroke-width="2" stroke-linecap="round" stroke-linejoin="round" filter="url(#b2_5)" opacity="1"/>
<rect x="47.650000000000006" y="23.650000000000002" width="25.7" height="24.900000000000002" rx="6.15" fill="#f8b428" filter="url(#b1_2)" opacity="1"/>
<rect x="48.980000000000004" y="25.18" width="23.240000000000002" height="22.04" rx="5.65" fill="#f88430" filter="url(#b0_8)" opacity="0.9"/>
<rect x="53.1" y="25.900000000000002" width="13.6" height="4.4" rx="2" fill="#c0e030" filter="url(#b0_5)" opacity="1"/>
<rect x="54.1" y="26.6" width="11.6" height="3.1" rx="1.5" fill="#50c848" filter="url(#b0_5)" opacity="1"/>
<rect x="57.5" y="26.3" width="4.4" height="1.8" rx="0.8" fill="#a8d838" filter="url(#b0_5)" opacity="1"/>
<rect x="54.1" y="39.1" width="15" height="6" rx="2.4" fill="#d0e430" filter="url(#b0_5)" opacity="1"/>
<rect x="55.1" y="39.9" width="13" height="4.4" rx="2" fill="#38b0c8" filter="url(#b0_5)" opacity="1"/>
<rect x="56.1" y="40.6" width="4" height="3" rx="1.2" fill="#2c78d8" filter="url(#b0_5)" opacity="1"/>
<rect x="63.1" y="40.6" width="4" height="3" rx="1.2" fill="#2c78d8" filter="url(#b0_5)" opacity="1"/>
<rect x="60.300000000000004" y="39.9" width="2.6" height="4.4" rx="0.5" fill="#a0dc38" filter="url(#b0_5)" opacity="1"/>
<rect x="50.800000000000004" y="30.900000000000002" width="19.8" height="8.4" rx="2.2" fill="#f03450" filter="url(#b0_8)" opacity="1"/>
<rect x="52.7" y="32.300000000000004" width="16" height="5.2" rx="2" fill="#f45878" filter="url(#b0_8)" opacity="1"/>
<rect x="54.2" y="32.9" width="13" height="3.8" rx="1.6" fill="#f8a0b0" filter="url(#b0_8)" opacity="1"/>
<rect x="54.7" y="33.0" width="12" height="3.6" rx="1.6" fill="#fbeee4" filter="url(#b0_8)" opacity="1"/>
<rect x="2.2" y="1" width="7.9" height="6.5" fill="rgba(10,30,80,0.5)"/>
<text x="2.9" y="6.3" font-family='"Liberation Serif", serif' font-size="6.4" fill="#fff" textLength="6.6" lengthAdjust="spacingAndGlyphs">°C</text>
<rect x="104.5" y="1" width="16.9" height="6.4" fill="rgba(10,30,80,0.5)"/>
<text x="120.8" y="6.6" font-family='"Liberation Serif", serif' font-size="7" fill="#fff" text-anchor="end">300.0</text>
<rect x="107.9" y="67.19999999999999" width="13.5" height="6.4" fill="rgba(10,30,80,0.5)"/>
<text x="120.8" y="72.8" font-family='"Liberation Serif", serif' font-size="7" fill="#fff" text-anchor="end">15.0</text>
<rect x="114.4" y="8.9" width="6.2" height="57.19999999999999" fill="url(#g10)"/>
<g fill="#fff"><path d="M4 68.19999999999999l2 1.6h-4zM4 72.89999999999999l2-1.6h-4z"/><rect x="2" y="70.1" width="4" height="0.9"/></g>
<text x="7" y="72.0" font-family='"Liberation Sans", sans-serif' font-size="3.9" font-weight="bold" fill="#fff" textLength="13.3" lengthAdjust="spacingAndGlyphs">FLIR</text>
<text x="57" y="59.7" font-family='"Liberation Sans", sans-serif' font-size="14.8" fill="#000" text-anchor="middle">180</text>
</g>
</svg></body></html>
